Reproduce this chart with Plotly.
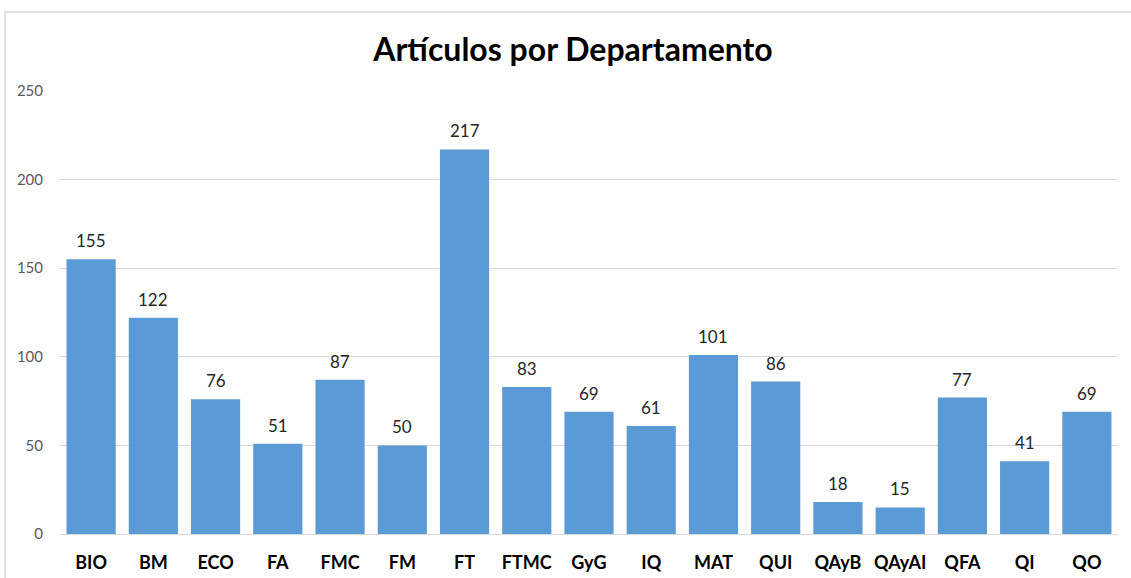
import plotly.graph_objects as go

categories = ["BIO", "BM", "ECO", "FA", "FMC", "FM", "FT", "FTMC", "GyG", "IQ",
              "MAT", "QUI", "QAyB", "QAyAI", "QFA", "QI", "QO"]
values = [155, 122, 76, 51, 87, 50, 217, 83, 69, 61, 101, 86, 18, 15, 77, 41, 69]
y_ticks = [0, 50, 100, 150, 200, 250]

W, H = 1131, 578
L, R, T, B = 60, 13, 91, 44
pw, ph = W - L - R, H - T - B
FONT = "Lato, Noto Sans, sans-serif"

fig = go.Figure(go.Bar(
    x=categories, y=values,
    marker=dict(color="#5B9BD5", line=dict(width=0)),
))

for c, v in zip(categories, values):
    fig.add_annotation(x=c, y=v, text=str(v), showarrow=False, yanchor="bottom",
                       yshift=6, font=dict(family=FONT, size=17, color="#262626"))

fig.update_layout(
    width=W, height=H, margin=dict(l=L, r=R, t=T, b=B, autoexpand=False),
    paper_bgcolor="white", plot_bgcolor="white",
    bargap=0.21, showlegend=False,
    title=dict(text="<b>Artículos por Departamento</b>", x=(573 - L) / pw, xref="paper",
               xanchor="center", y=1 - 50 / H, yanchor="middle",
               font=dict(family=FONT, size=32, color="#000000")),
    font=dict(family=FONT),
)
fig.update_xaxes(showgrid=False, showline=True, linecolor="#D9D9D9", linewidth=1,
                 ticks="", automargin=False, ticklabelstandoff=12,
                 tickfont=dict(size=18, color="#000000", family=FONT),
                 tickprefix="<b>", ticksuffix="</b>")
fig.update_yaxes(range=[0, 250], tickvals=y_ticks, showgrid=True, gridcolor="#D9D9D9",
                 zeroline=False, showline=False, ticks="", automargin=False,
                 ticklabelstandoff=16,
                 tickfont=dict(size=15, color="#595959"))

fig.add_shape(type="rect", xref="paper", yref="paper",
              x0=(5 - L) / pw, x1=(W + 5 - L) / pw,
              y0=-(B + 20) / ph, y1=1 + (T - 12) / ph,
              line=dict(color="#D9D9D9", width=1.5), fillcolor="rgba(0,0,0,0)", layer="below")

fig.write_html("out.html", config={"displayModeBar": False},
               post_script="document.body.style.margin='0';document.body.style.overflow='hidden';")
